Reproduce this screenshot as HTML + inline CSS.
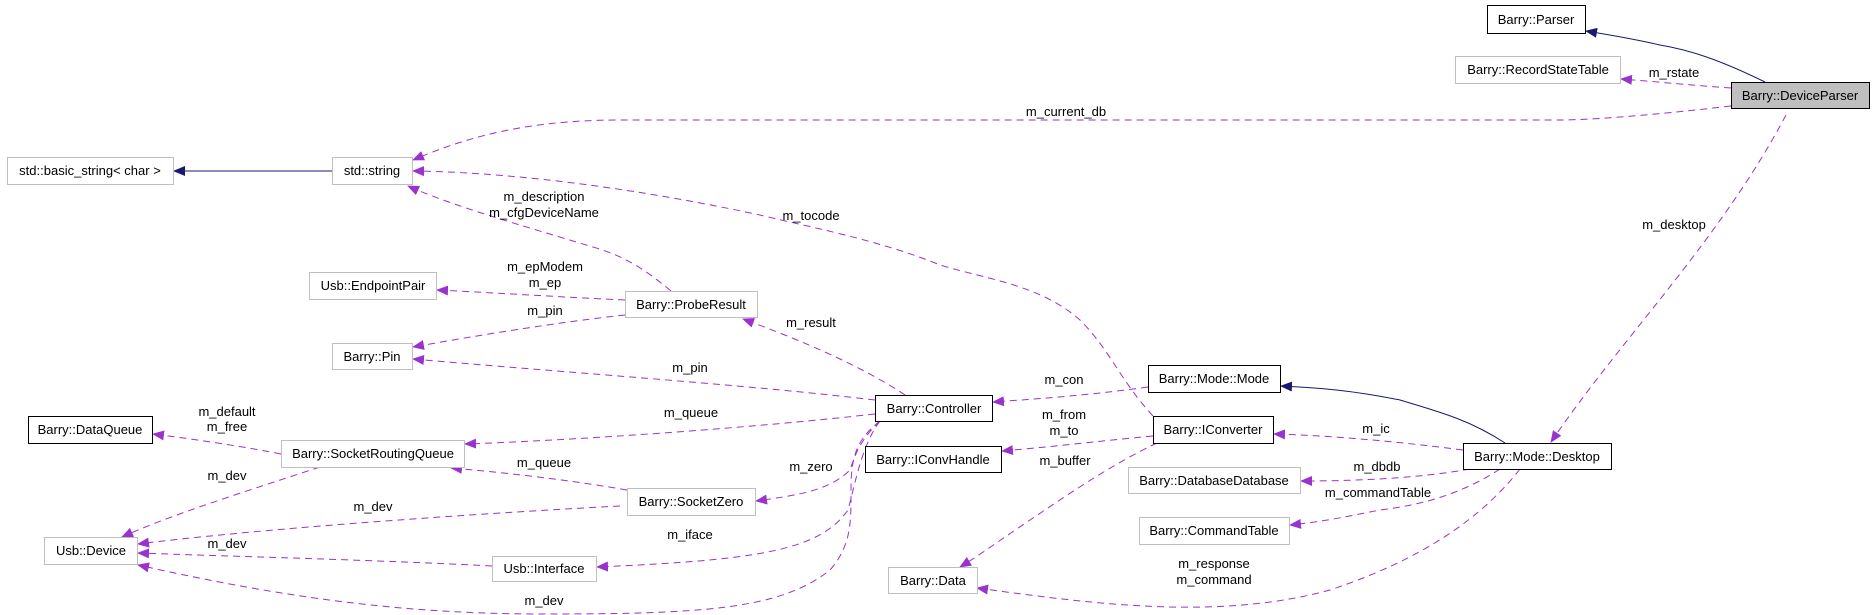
<!DOCTYPE html>
<html><head><meta charset="utf-8"><style>
body{margin:0;background:#fff;width:1875px;height:615px;overflow:hidden}
svg{display:block}
text{font-family:"Liberation Sans",Arial,sans-serif;font-size:13px;fill:#000}
.n{fill:#fff;stroke:#000;stroke-width:1}
.g{fill:#fff;stroke:#bfbfbf;stroke-width:1}
.p{fill:none;stroke:#9a32cd;stroke-width:1;stroke-dasharray:7,5}
.b{fill:none;stroke:#191970;stroke-width:1}
</style></head><body>
<svg width="1875" height="615" viewBox="0 0 1875 615">
<defs>
<marker id="ap" markerWidth="12" markerHeight="10" refX="11" refY="5" orient="auto" markerUnits="userSpaceOnUse"><path d="M0,0 L12,5 L0,10 Z" fill="#9a32cd"/></marker>
<marker id="ab" markerWidth="12" markerHeight="10" refX="11" refY="5" orient="auto" markerUnits="userSpaceOnUse"><path d="M0,0 L12,5 L0,10 Z" fill="#191970"/></marker>
</defs>
<!-- edges -->
<path class="b" marker-end="url(#ab)" d="M1765,82 C1720,60 1690,50 1660,45 C1630,38 1610,35 1586,31"/>
<path class="p" marker-end="url(#ap)" d="M1731,88 C1700,86 1660,82 1621,79"/>
<path class="p" marker-end="url(#ap)" d="M1731,106 C1680,112 1600,120 1560,120 L620,120 C520,120 460,140 413,160"/>
<path class="p" marker-end="url(#ap)" d="M1786,115 C1720,240 1620,340 1551,442"/>
<path class="b" marker-end="url(#ab)" d="M332,171 L174,171"/>
<path class="p" marker-end="url(#ap)" d="M1153,416 C1120,380 1110,350 1080,320 C1040,285 990,280 940,265 C880,240 800,225 760,215 C620,185 500,172 413,171"/>
<path class="p" marker-end="url(#ap)" d="M671,291 C640,265 620,255 593,247 C520,225 450,205 408,186"/>
<path class="p" marker-end="url(#ap)" d="M625,300 C560,297 480,292 437,290"/>
<path class="p" marker-end="url(#ap)" d="M625,315 C560,322 480,335 413,347"/>
<path class="p" marker-end="url(#ap)" d="M905,395 C860,365 800,340 743,319"/>
<path class="p" marker-end="url(#ap)" d="M875,400 C750,385 560,372 413,359"/>
<path class="p" marker-end="url(#ap)" d="M875,414 C750,428 580,440 465,444"/>
<path class="p" marker-end="url(#ap)" d="M281,454 C240,446 200,440 153,434"/>
<path class="p" marker-end="url(#ap)" d="M320,467 C250,490 170,515 122,537"/>
<path class="p" marker-end="url(#ap)" d="M627,490 C570,480 500,472 451,468"/>
<path class="p" marker-end="url(#ap)" d="M620,506 C450,515 250,530 138,544"/>
<path class="p" marker-end="url(#ap)" d="M492,566 C380,560 220,556 138,553"/>
<path class="p" marker-end="url(#ap)" d="M880,421 C855,440 851,460 851,490 C851,520 852,545 830,570 C780,610 700,614 540,614 C380,614 250,590 138,565"/>
<path class="p" marker-end="url(#ap)" d="M880,421 C860,440 855,455 850,470 C830,490 800,495 756,501"/>
<path class="p" marker-end="url(#ap)" d="M880,421 C862,445 856,480 848,510 C820,550 760,560 597,567"/>
<path class="p" marker-end="url(#ap)" d="M1148,387 C1090,395 1050,398 993,402"/>
<path class="p" marker-end="url(#ap)" d="M1153,436 C1100,441 1060,446 1002,451"/>
<path class="p" marker-end="url(#ap)" d="M1157,443 C1110,465 1060,500 1030,520 C1000,540 980,555 960,567"/>
<path class="b" marker-end="url(#ab)" d="M1505,443 C1470,420 1440,412 1400,400 C1350,390 1320,388 1281,386"/>
<path class="p" marker-end="url(#ap)" d="M1463,450 C1400,442 1340,436 1274,434"/>
<path class="p" marker-end="url(#ap)" d="M1470,469 C1420,478 1360,481 1301,481"/>
<path class="p" marker-end="url(#ap)" d="M1500,469 C1460,495 1420,505 1380,510 C1340,518 1320,522 1290,525"/>
<path class="p" marker-end="url(#ap)" d="M1520,469 C1480,520 1420,560 1330,590 C1220,620 1100,605 977,588"/>
<!-- nodes -->
<rect class="n" x="1487.5" y="5.5" width="98" height="28"/><text x="1536" y="24" text-anchor="middle">Barry::Parser</text>
<rect class="g" x="1455.5" y="56.5" width="165" height="27"/><text x="1538" y="74" text-anchor="middle">Barry::RecordStateTable</text>
<rect x="1731.5" y="82.5" width="138" height="26" fill="#bfbfbf" stroke="#000"/><text x="1800" y="100" text-anchor="middle">Barry::DeviceParser</text>
<rect class="g" x="7.5" y="157.5" width="166" height="27"/><text x="90" y="175" text-anchor="middle">std::basic_string&lt; char &gt;</text>
<rect class="g" x="332.5" y="157.5" width="80" height="27"/><text x="372" y="175" text-anchor="middle">std::string</text>
<rect class="g" x="309.5" y="272.5" width="127" height="27"/><text x="373" y="290" text-anchor="middle">Usb::EndpointPair</text>
<rect class="g" x="625.5" y="291.5" width="132" height="26"/><text x="691" y="309" text-anchor="middle">Barry::ProbeResult</text>
<rect class="g" x="332.5" y="343.5" width="80" height="26"/><text x="372" y="361" text-anchor="middle">Barry::Pin</text>
<rect class="n" x="28.5" y="416.5" width="124" height="27"/><text x="90" y="434" text-anchor="middle">Barry::DataQueue</text>
<rect class="g" x="281.5" y="440.5" width="183" height="27"/><text x="373" y="458" text-anchor="middle">Barry::SocketRoutingQueue</text>
<rect class="g" x="627.5" y="488.5" width="128" height="27"/><text x="691" y="506" text-anchor="middle">Barry::SocketZero</text>
<rect class="g" x="44.5" y="537.5" width="93" height="27"/><text x="91" y="555" text-anchor="middle">Usb::Device</text>
<rect class="g" x="492.5" y="556.5" width="104" height="25"/><text x="544" y="573" text-anchor="middle">Usb::Interface</text>
<rect class="n" x="875.5" y="395.5" width="117" height="26"/><text x="934" y="413" text-anchor="middle">Barry::Controller</text>
<rect class="n" x="865.5" y="446.5" width="136" height="26"/><text x="933" y="464" text-anchor="middle">Barry::IConvHandle</text>
<rect class="g" x="888.5" y="567.5" width="89" height="26"/><text x="933" y="585" text-anchor="middle">Barry::Data</text>
<rect class="n" x="1148.5" y="365.5" width="132" height="27"/><text x="1214" y="383" text-anchor="middle">Barry::Mode::Mode</text>
<rect class="n" x="1153.5" y="416.5" width="120" height="27"/><text x="1213" y="434" text-anchor="middle">Barry::IConverter</text>
<rect class="n" x="1463.5" y="443.5" width="148" height="26"/><text x="1537" y="461" text-anchor="middle">Barry::Mode::Desktop</text>
<rect class="g" x="1128.5" y="467.5" width="172" height="26"/><text x="1214" y="485" text-anchor="middle">Barry::DatabaseDatabase</text>
<rect class="g" x="1139.5" y="517.5" width="150" height="27"/><text x="1214" y="535" text-anchor="middle">Barry::CommandTable</text>
<!-- labels -->
<g text-anchor="middle">
<text x="1066" y="116">m_current_db</text>
<text x="1674" y="77">m_rstate</text>
<text x="1674" y="229">m_desktop</text>
<text x="811" y="220">m_tocode</text>
<text x="544" y="201">m_description</text>
<text x="544" y="217">m_cfgDeviceName</text>
<text x="545" y="271">m_epModem</text>
<text x="545" y="287">m_ep</text>
<text x="545" y="315">m_pin</text>
<text x="811" y="327">m_result</text>
<text x="690" y="372">m_pin</text>
<text x="691" y="417">m_queue</text>
<text x="227" y="416">m_default</text>
<text x="227" y="431">m_free</text>
<text x="544" y="467">m_queue</text>
<text x="227" y="480">m_dev</text>
<text x="811" y="471">m_zero</text>
<text x="373" y="511">m_dev</text>
<text x="227" y="548">m_dev</text>
<text x="690" y="539">m_iface</text>
<text x="544" y="605">m_dev</text>
<text x="1064" y="384">m_con</text>
<text x="1064" y="419">m_from</text>
<text x="1064" y="435">m_to</text>
<text x="1065" y="465">m_buffer</text>
<text x="1376" y="433">m_ic</text>
<text x="1377" y="471">m_dbdb</text>
<text x="1378" y="497">m_commandTable</text>
<text x="1214" y="568">m_response</text>
<text x="1214" y="584">m_command</text>
</g>
</svg>
</body></html>
